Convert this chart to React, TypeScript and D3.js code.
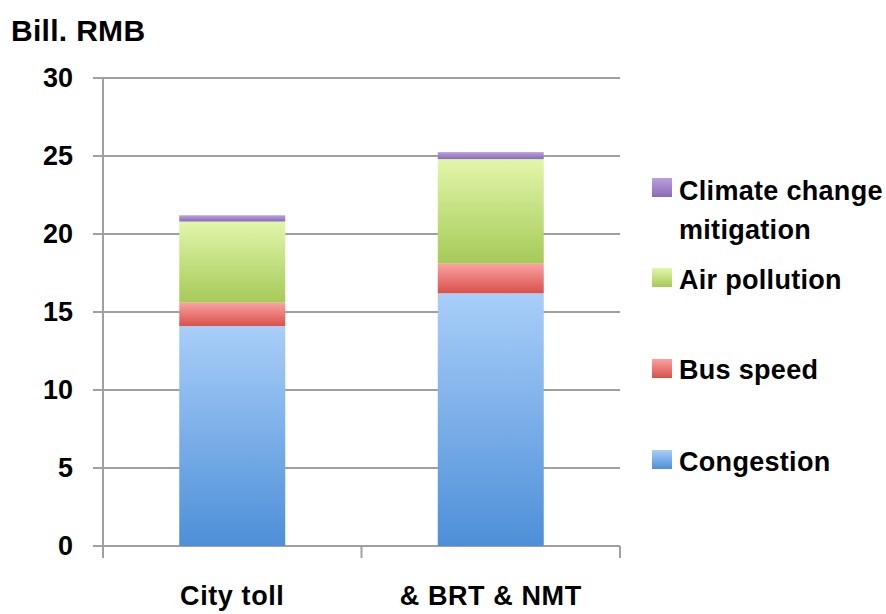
import React from "react";
import * as d3 from "d3";

const categories = ["City toll", "& BRT & NMT"];
const seriesNames = ["Congestion", "Bus speed", "Air pollution", "Climate change mitigation"];
const congestion = [14.1, 16.2];
const busSpeed = [1.5, 1.9];
const airPollution = [5.2, 6.7];
const climateChange = [0.4, 0.45];
const yTicks = [0, 5, 10, 15, 20, 25, 30];

const gradients = [
  { id: "gBlue", top: "#a9cef9", bottom: "#4d8fd8" },
  { id: "gRed", top: "#f9a3a1", bottom: "#d9504b" },
  { id: "gGreen", top: "#e2f6aa", bottom: "#a6ca58" },
  { id: "gPurple", top: "#b9a0dc", bottom: "#8a6ab9" },
];

const W = 886;
const H = 614;
const left = 103;
const right = 620;
const top = 78;
const bottom = 546;

export default function App() {
  const x = d3.scaleBand<string>().domain(categories).range([left, right]).paddingInner(0.59).paddingOuter(0.295);
  const y = d3.scaleLinear().domain([0, 30]).range([bottom, top]);
  const rows = categories.map((c, i) => ({
    cat: c,
    s0: congestion[i],
    s1: busSpeed[i],
    s2: airPollution[i],
    s3: climateChange[i],
  }));
  const stack = d3.stack<any>().keys(["s0", "s1", "s2", "s3"]);
  const layers = stack(rows);
  const bandOuter = d3.scaleBand<string>().domain(categories).range([left, right]);
  const boundaries = [left, ...categories.map((c) => (bandOuter(c) as number) + bandOuter.bandwidth())];
  const fontA = "'Liberation Sans', Arial, sans-serif";
  const legendNames = [["Congestion"], ["Bus speed"], ["Air pollution"], ["Climate change", "mitigation"]];
  const legendItems = [
    { g: 3, sq: 178, base: 200 },
    { g: 2, sq: 268, base: 289 },
    { g: 1, sq: 359, base: 379 },
    { g: 0, sq: 450, base: 471 },
  ];
  return (
    <div style={{ position: "absolute", left: 0, top: 0 }}>
      <svg width={W} height={H} style={{ display: "block", background: "#fff" }}>
        <defs>
          {gradients.map((g) => (
            <linearGradient key={g.id} id={g.id} x1="0" y1="0" x2="0" y2="1">
              <stop offset="0" stopColor={g.top} />
              <stop offset="1" stopColor={g.bottom} />
            </linearGradient>
          ))}
        </defs>
        <text x={11} y={41} fontFamily={fontA} fontWeight="bold" fontSize={30} fill="#000" letterSpacing={0.3}>
          Bill. RMB
        </text>
        {yTicks.map((t) => (
          <g key={t}>
            <line x1={93} x2={right} y1={y(t)} y2={y(t)} stroke="#a0a0a0" strokeWidth={2} />
            <text x={73} y={y(t) + 9} textAnchor="end" fontFamily={fontA} fontWeight="bold" fontSize={27} fill="#000">
              {t}
            </text>
          </g>
        ))}
        <line x1={left} x2={left} y1={top} y2={bottom} stroke="#a0a0a0" strokeWidth={2} />
        {boundaries.map((b, i) => (
          <line key={i} x1={b} x2={b} y1={bottom} y2={bottom + 12} stroke="#a0a0a0" strokeWidth={2} />
        ))}
        {layers.map((layer, li) =>
          layer.map((d, i) => (
            <rect
              key={li + "-" + i}
              x={x(categories[i])}
              width={x.bandwidth()}
              y={y(d[1])}
              height={y(d[0]) - y(d[1])}
              fill={`url(#${gradients[li].id})`}
            />
          ))
        )}
        {categories.map((c) => (
          <text
            key={c}
            x={(bandOuter(c) as number) + bandOuter.bandwidth() / 2}
            y={605}
            textAnchor="middle"
            fontFamily={fontA}
            fontWeight="bold"
            fontSize={27}
            fill="#000"
            letterSpacing={0.6}
          >
            {c}
          </text>
        ))}
        {legendItems.map((it) => (
          <g key={it.g}>
            <rect x={652} y={it.sq} width={20} height={19} fill={`url(#${gradients[it.g].id})`} />
            {legendNames[it.g].map((ln, k) => (
              <text
                key={k}
                x={679}
                y={it.base + k * 39}
                fontFamily={fontA}
                fontWeight="bold"
                fontSize={27}
                fill="#000"
                letterSpacing={0.3}
              >
                {ln}
              </text>
            ))}
          </g>
        ))}
      </svg>
    </div>
  );
}
